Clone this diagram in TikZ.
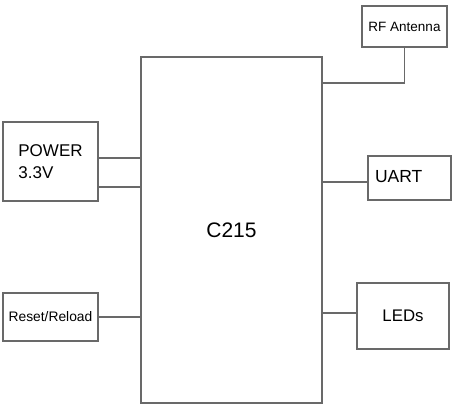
\documentclass[tikz,border=0pt]{standalone}
\usepackage{fontspec}
\setmainfont{Liberation Sans}
\usepackage{tikz}
\usetikzlibrary{calc}

\definecolor{edgegray}{RGB}{105,105,105}
\newcommand{\fsz}[1]{\fontsize{#1}{1.3\dimexpr #1pt\relax}\selectfont}

\begin{document}
\begin{tikzpicture}[x=1pt, y=-1pt]
      \useasboundingbox (0,0) rectangle (460,413);
      \begin{scope}[blk/.style={draw=edgegray, line width=1.6pt, fill=white, inner sep=0, outer sep=0, align=left}, wire/.style={edgegray, line width=1.6pt}]
        \node [blk, minimum width=181, minimum height=346, font=\fsz{21}] (chip) at (231.5,230) {\raisebox{-4pt}{C215}};
        \node [blk, minimum width=95, minimum height=79, font=\fsz{17}] (power) at (50.5,161.5) {POWER\\3.3V};
        \node [blk, minimum width=95, minimum height=48, font=\fsz{13.8}] (reset) at (50.5,317) {Reset/Reload};
        \node [blk, minimum width=85, minimum height=41, font=\fsz{13.5}] (rf) at (404.5,26.5) {RF Antenna};
        \node [blk, minimum width=83, minimum height=44, font=\fsz{17.5}] (uart) at (409.5,178) {\raisebox{3pt}{\makebox[69pt][l]{UART}}};
        \node [blk, minimum width=92, minimum height=66, font=\fsz{16.8}] (leds) at (403,316) {LEDs};
        % left side
        \coordinate (pw1) at ([yshift=3.5pt]power.east);
        \coordinate (pw2) at ([yshift=-25.5pt]power.east);
        \foreach \x in {pw1,pw2,reset.east} {\draw [wire] (\x) -- (\x -| chip.west);};
        % right side
        \coordinate (ua) at ([yshift=-4pt]uart.west);
        \coordinate (le) at ([yshift=3pt]leds.west);
        \foreach \x in {ua,le} {\draw [wire] (\x) -- (\x -| chip.east);};
        \draw [wire] (rf.south) |- (chip.east |- 0,83);
    \end{scope}
    \end{tikzpicture}
\end{document}
